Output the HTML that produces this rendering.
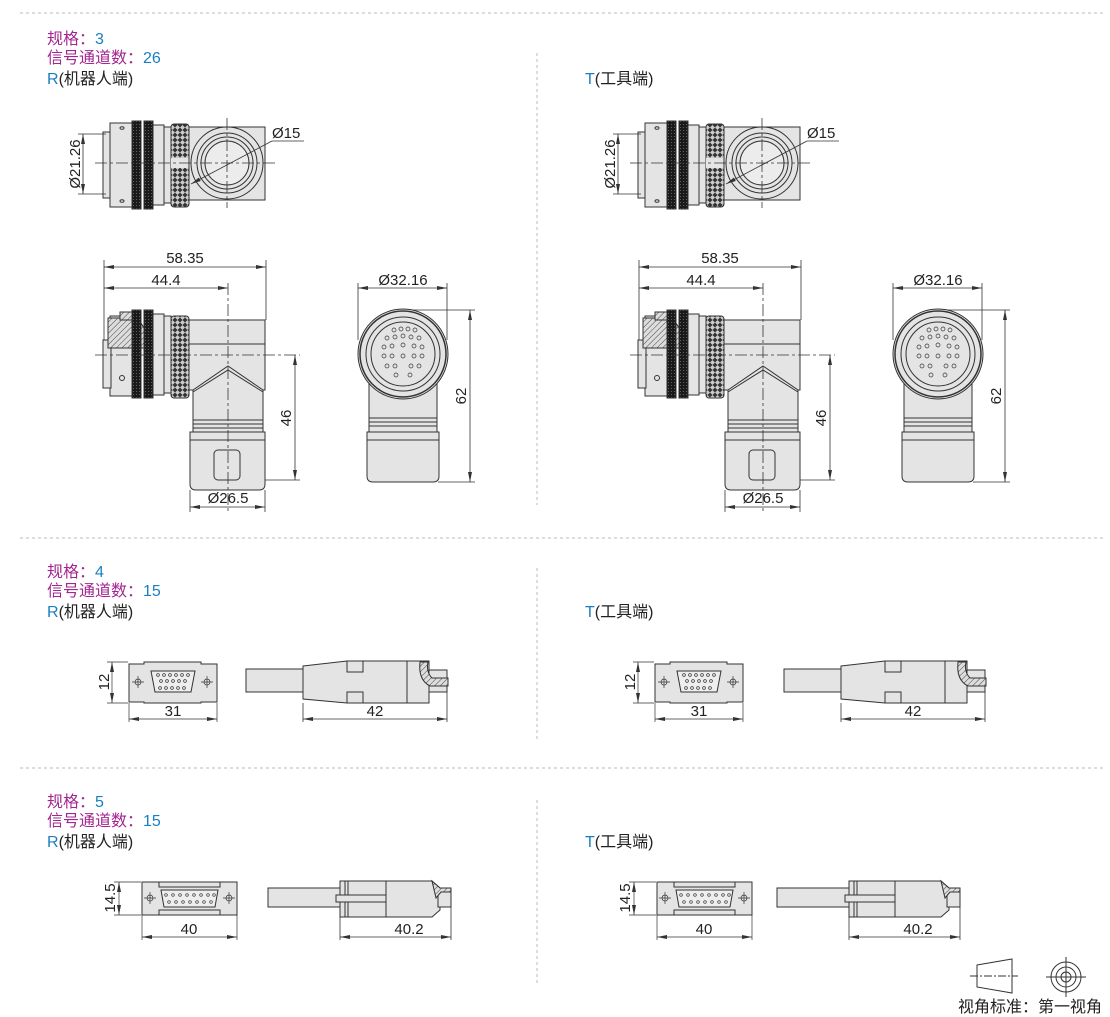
<!DOCTYPE html>
<html><head><meta charset="utf-8"><style>
html,body{margin:0;padding:0;background:#fff}
svg{display:block}
text{font-family:"Liberation Sans","Noto Sans CJK SC",sans-serif}
</style></head><body>
<svg width="1110" height="1017" viewBox="0 0 1110 1017" xmlns="http://www.w3.org/2000/svg">
<defs>
<pattern id="kn" width="5" height="5" patternUnits="userSpaceOnUse">
<rect width="5" height="5" fill="#333"/>
<path d="M0 2.5 L2.5 0 L5 2.5 L2.5 5Z" fill="#ccc"/>
</pattern>
<pattern id="rg" width="3" height="3" patternUnits="userSpaceOnUse">
<rect width="3" height="3" fill="#1a1a1a"/><circle cx="1.5" cy="1.5" r="0.5" fill="#777"/>
</pattern>
<pattern id="ht" width="4" height="4" patternUnits="userSpaceOnUse" patternTransform="rotate(45)">
<rect width="4" height="4" fill="#ddd"/><line x1="0" y1="0" x2="0" y2="4" stroke="#444" stroke-width="1"/>
</pattern>
<marker id="ar" viewBox="0 0 10 4" refX="10" refY="2" markerWidth="10" markerHeight="4" orient="auto-start-reverse" markerUnits="userSpaceOnUse">
<path d="M0 0 L10 2 L0 4Z" fill="#333"/></marker>

<g id="s3" stroke="#333" stroke-width="1" fill="#e4e4e4">
<rect x="103" y="132" width="8" height="66"/>
<rect x="110" y="123" width="23" height="84"/>
<ellipse cx="122" cy="128" rx="2" ry="1.3" fill="none"/><ellipse cx="122" cy="201" rx="2" ry="1.3" fill="none"/>
<rect x="132" y="121" width="9" height="88" fill="url(#rg)"/>
<rect x="144" y="121" width="9" height="88" fill="url(#rg)"/>
<rect x="153" y="125" width="11" height="80"/>
<rect x="164" y="127" width="7" height="76"/>
<rect x="171" y="124" width="18" height="83" rx="3" fill="url(#kn)"/>
<rect x="171" y="158" width="18" height="10" fill="#e4e4e4" stroke="none"/>
<rect x="189" y="127" width="76" height="73"/>
<circle cx="227" cy="163" r="36"/>
<circle cx="227" cy="163" r="30" fill="none"/>
<circle cx="227" cy="163" r="26" fill="none"/>
<circle cx="227" cy="163" r="22" fill="#ececec"/>
<g fill="none" stroke-dasharray="12 3 3 3" stroke-width="0.8">
<line x1="95" y1="163" x2="278" y2="163"/><line x1="227" y1="118" x2="227" y2="208"/></g>
<g fill="none" stroke-width="0.8">
<line x1="78" y1="134" x2="106" y2="134"/><line x1="78" y1="194" x2="106" y2="194"/>
<line x1="83" y1="134" x2="83" y2="194" marker-start="url(#ar)" marker-end="url(#ar)"/>
<line x1="191" y1="184" x2="272" y2="141" marker-start="url(#ar)"/>
<line x1="272" y1="141" x2="304" y2="141"/>
</g>
<g fill="#222" stroke="none" font-size="15">
<text x="272" y="138">Ø15</text>
<text transform="translate(80,164) rotate(-90)" text-anchor="middle">Ø21.26</text>
</g>

<g fill="none" stroke-width="0.8">
<line x1="104" y1="260" x2="104" y2="358"/><line x1="266" y1="260" x2="266" y2="320"/>
<line x1="104" y1="267" x2="266" y2="267" marker-start="url(#ar)" marker-end="url(#ar)"/>
<line x1="104" y1="288" x2="228" y2="288" marker-start="url(#ar)" marker-end="url(#ar)"/>
</g>
<rect x="110" y="316" width="23" height="80"/>
<rect x="103" y="340" width="8" height="48"/>
<path d="M108 318 h30 l6 10 v20 h-36z" fill="url(#ht)"/>
<path d="M120 312 h12 l4 8 h-16z" fill="url(#ht)"/>
<circle cx="122" cy="378" r="2.5" fill="none"/>
<rect x="132" y="310" width="9" height="88" fill="url(#rg)"/>
<rect x="144" y="310" width="9" height="88" fill="url(#rg)"/>
<rect x="153" y="314" width="11" height="81"/>
<rect x="164" y="316" width="7" height="77"/>
<rect x="171" y="316" width="18" height="82" rx="3" fill="url(#kn)"/>
<rect x="189" y="320" width="76" height="70"/>
<line x1="189" y1="344" x2="265" y2="344"/>
<path d="M193 390 L228 366 L263 390 V420 H193Z"/>
<path d="M193 392 L228 370 L263 392" fill="none"/>
<rect x="193" y="420" width="70" height="12"/>
<line x1="193" y1="424" x2="263" y2="424"/><line x1="193" y1="428" x2="263" y2="428"/>
<path d="M190 432 H265 V484 q0 6 -6 6 H196 q-6 0 -6 -6Z"/>
<line x1="190" y1="440" x2="265" y2="440"/>
<rect x="214" y="450" width="26" height="30" rx="4"/>
<g fill="none" stroke-dasharray="12 3 3 3" stroke-width="0.8">
<line x1="95" y1="355" x2="300" y2="355"/><line x1="228" y1="283" x2="228" y2="512"/></g>
<g fill="none" stroke-width="0.8">
<line x1="265" y1="480" x2="300" y2="480"/>
<line x1="295" y1="355" x2="295" y2="480" marker-start="url(#ar)" marker-end="url(#ar)"/>
<line x1="190" y1="490" x2="190" y2="512"/><line x1="265" y1="490" x2="265" y2="512"/>
<line x1="190" y1="507" x2="265" y2="507" marker-start="url(#ar)" marker-end="url(#ar)"/>
</g>
<g fill="#222" stroke="none" font-size="15">
<text x="185" y="263" text-anchor="middle">58.35</text>
<text x="166" y="285" text-anchor="middle">44.4</text>
<text x="228" y="503" text-anchor="middle">Ø26.5</text>
<text transform="translate(291,418) rotate(-90)" text-anchor="middle">46</text>
</g>

<g fill="none" stroke-width="0.8">
<line x1="358" y1="283" x2="358" y2="340"/><line x1="447" y1="283" x2="447" y2="340"/>
<line x1="358" y1="288" x2="447" y2="288" marker-start="url(#ar)" marker-end="url(#ar)"/>
<line x1="405" y1="310" x2="475" y2="310"/><line x1="438" y1="482" x2="475" y2="482"/>
<line x1="470" y1="310" x2="470" y2="482" marker-start="url(#ar)" marker-end="url(#ar)"/>
</g>
<rect x="369" y="380" width="68" height="38"/>
<circle cx="403" cy="354" r="45"/>
<circle cx="403" cy="354" r="43" fill="none" stroke-width="1.5"/>
<circle cx="403" cy="354" r="37" fill="none"/>
<circle cx="403" cy="354" r="32" fill="none"/>
<g fill="none" stroke-width="0.7">
<circle cx="394" cy="330" r="2"/><circle cx="401" cy="329" r="2"/><circle cx="408" cy="329" r="2"/><circle cx="415" cy="330" r="2"/>
<circle cx="387" cy="338" r="2"/><circle cx="395" cy="337" r="2"/><circle cx="403" cy="336" r="2"/><circle cx="411" cy="337" r="2"/><circle cx="419" cy="338" r="2"/>
<circle cx="384" cy="347" r="2"/><circle cx="392" cy="346" r="2"/><circle cx="414" cy="346" r="2"/><circle cx="422" cy="347" r="2"/><circle cx="403" cy="345" r="2"/>
<circle cx="384" cy="356" r="2"/><circle cx="392" cy="356" r="2"/><circle cx="403" cy="356" r="2"/><circle cx="414" cy="356" r="2"/><circle cx="422" cy="356" r="2"/>
<circle cx="387" cy="366" r="2"/><circle cx="395" cy="366" r="2"/><circle cx="411" cy="366" r="2"/><circle cx="419" cy="366" r="2"/>
<circle cx="396" cy="375" r="2"/><circle cx="410" cy="375" r="2"/>
</g>
<rect x="369" y="418" width="68" height="14"/>
<line x1="369" y1="422" x2="437" y2="422"/><line x1="369" y1="426" x2="437" y2="426"/>
<path d="M367 432 H439 V476 q0 6 -6 6 H373 q-6 0 -6 -6Z"/>
<line x1="367" y1="440" x2="439" y2="440"/>
<g fill="#222" stroke="none" font-size="15">
<text x="403" y="285" text-anchor="middle">Ø32.16</text>
<text transform="translate(466,396) rotate(-90)" text-anchor="middle">62</text>
</g>
</g>

<g id="p4" stroke="#333" stroke-width="1" fill="#e4e4e4">
<path d="M129 664 H144 V662 H201 V664 H217 V702 H201 V703 H144 V702 H129Z"/>
<path d="M151 671 H195 L191 692 H155Z" fill="#eee"/>
<g fill="none" stroke-width="0.7">
<circle cx="158" cy="675" r="1.4"/><circle cx="164" cy="675" r="1.4"/><circle cx="170" cy="675" r="1.4"/><circle cx="176" cy="675" r="1.4"/><circle cx="182" cy="675" r="1.4"/><circle cx="188" cy="675" r="1.4"/>
<circle cx="161" cy="681" r="1.4"/><circle cx="167" cy="681" r="1.4"/><circle cx="173" cy="681" r="1.4"/><circle cx="179" cy="681" r="1.4"/><circle cx="185" cy="681" r="1.4"/>
<circle cx="160" cy="688" r="1.4"/><circle cx="166" cy="688" r="1.4"/><circle cx="172" cy="688" r="1.4"/><circle cx="178" cy="688" r="1.4"/><circle cx="184" cy="688" r="1.4"/>
<circle cx="138" cy="682" r="3"/><circle cx="207" cy="682" r="3"/>
<path d="M132 682 h12 M138 676 v12 M201 682 h12 M207 676 v12"/>
<line x1="107" y1="662" x2="128" y2="662"/><line x1="107" y1="703" x2="128" y2="703"/>
<line x1="112" y1="662" x2="112" y2="703" marker-start="url(#ar)" marker-end="url(#ar)"/>
<line x1="129" y1="703" x2="129" y2="722"/><line x1="217" y1="703" x2="217" y2="722"/>
<line x1="129" y1="719" x2="217" y2="719" marker-start="url(#ar)" marker-end="url(#ar)"/>
</g>
<g fill="#222" stroke="none" font-size="15">
<text x="173" y="716" text-anchor="middle">31</text>
<text transform="translate(109,682) rotate(-90)" text-anchor="middle">12</text>
</g>
</g>
<g id="c4" stroke="#333" stroke-width="1" fill="#e4e4e4">
<rect x="246" y="669" width="57" height="23"/>
<path d="M303 666 L347 661 H429 V703 H347 L303 699Z"/>
<path d="M347 661 V672 H363 V661 M347 703 V692 H363 V703 M407 661 V703" fill="none"/>
<rect x="429" y="670" width="18" height="22"/>
<path d="M420 662 Q418 680 430 686 H448 V678 H432 Q426 672 428 662Z" fill="url(#ht)"/>
<g fill="none" stroke-width="0.8">
<line x1="303" y1="703" x2="303" y2="722"/><line x1="447" y1="692" x2="447" y2="722"/>
<line x1="303" y1="719" x2="447" y2="719" marker-start="url(#ar)" marker-end="url(#ar)"/>
</g>
<text x="375" y="716" text-anchor="middle" fill="#222" stroke="none" font-size="15">42</text>
</g>

<g id="p5" stroke="#333" stroke-width="1" fill="#e4e4e4">
<rect x="142" y="882" width="95" height="33"/>
<rect x="159" y="882" width="61" height="5" fill="none"/><rect x="159" y="910" width="61" height="5" fill="none"/>
<path d="M161 890 H218 L215 907 H164Z" fill="#eee"/>
<g fill="none" stroke-width="0.7">
<circle cx="166" cy="895" r="1.3"/><circle cx="173" cy="895" r="1.3"/><circle cx="180" cy="895" r="1.3"/><circle cx="187" cy="895" r="1.3"/><circle cx="194" cy="895" r="1.3"/><circle cx="201" cy="895" r="1.3"/><circle cx="208" cy="895" r="1.3"/><circle cx="214" cy="895" r="1.3"/>
<circle cx="169" cy="902" r="1.3"/><circle cx="176" cy="902" r="1.3"/><circle cx="183" cy="902" r="1.3"/><circle cx="190" cy="902" r="1.3"/><circle cx="197" cy="902" r="1.3"/><circle cx="204" cy="902" r="1.3"/><circle cx="211" cy="902" r="1.3"/>
<circle cx="150" cy="898" r="3"/><circle cx="229" cy="898" r="3"/>
<path d="M144 898 h12 M150 892 v12 M223 898 h12 M229 892 v12"/>
<line x1="114" y1="882" x2="141" y2="882"/><line x1="114" y1="915" x2="141" y2="915"/>
<line x1="119" y1="882" x2="119" y2="915" marker-start="url(#ar)" marker-end="url(#ar)"/>
<line x1="142" y1="915" x2="142" y2="940"/><line x1="237" y1="915" x2="237" y2="940"/>
<line x1="142" y1="937" x2="237" y2="937" marker-start="url(#ar)" marker-end="url(#ar)"/>
</g>
<g fill="#222" stroke="none" font-size="15">
<text x="189" y="934" text-anchor="middle">40</text>
<text transform="translate(115,898) rotate(-90)" text-anchor="middle">14.5</text>
</g>
</g>
<g id="c5" stroke="#333" stroke-width="1" fill="#e4e4e4">
<rect x="268" y="888" width="72" height="19"/>
<path d="M340 881 H432 L440 888 V910 L432 917 H340Z"/>
<path d="M345 881 V917 M348 881 V917 M386 881 V917" fill="none"/>
<rect x="336" y="895" width="50" height="7"/>
<rect x="438" y="888" width="13" height="19"/>
<path d="M432 881 L440 888 H451 V892 H441 L436 898Z" fill="url(#ht)"/>
<g fill="none" stroke-width="0.8">
<line x1="340" y1="917" x2="340" y2="940"/><line x1="451" y1="907" x2="451" y2="940"/>
<line x1="340" y1="937" x2="451" y2="937" marker-start="url(#ar)" marker-end="url(#ar)"/>
</g>
<text x="409" y="934" text-anchor="middle" fill="#222" stroke="none" font-size="15">40.2</text>
</g>
</defs>

<g stroke="#bbb" stroke-width="1" stroke-dasharray="3 3" fill="none">
<line x1="20" y1="13" x2="1105" y2="13"/>
<line x1="20" y1="538" x2="1105" y2="538"/>
<line x1="20" y1="768" x2="1105" y2="768"/>
<line x1="537" y1="53" x2="537" y2="505"/>
<line x1="537" y1="568" x2="537" y2="740"/>
<line x1="537" y1="800" x2="537" y2="985"/>
</g>

<g font-size="16" fill="#222">
<text x="47" y="44"><tspan fill="#a3258f">规格：</tspan><tspan fill="#1a7fc1">3</tspan></text>
<text x="47" y="63"><tspan fill="#a3258f">信号通道数：</tspan><tspan fill="#1a7fc1">26</tspan></text>
<text x="47" y="84"><tspan fill="#1a7fc1">R</tspan>(机器人端)</text>
<text x="585" y="84"><tspan fill="#1a7fc1">T</tspan>(工具端)</text>
<text x="47" y="577"><tspan fill="#a3258f">规格：</tspan><tspan fill="#1a7fc1">4</tspan></text>
<text x="47" y="596"><tspan fill="#a3258f">信号通道数：</tspan><tspan fill="#1a7fc1">15</tspan></text>
<text x="47" y="617"><tspan fill="#1a7fc1">R</tspan>(机器人端)</text>
<text x="585" y="617"><tspan fill="#1a7fc1">T</tspan>(工具端)</text>
<text x="47" y="807"><tspan fill="#a3258f">规格：</tspan><tspan fill="#1a7fc1">5</tspan></text>
<text x="47" y="826"><tspan fill="#a3258f">信号通道数：</tspan><tspan fill="#1a7fc1">15</tspan></text>
<text x="47" y="847"><tspan fill="#1a7fc1">R</tspan>(机器人端)</text>
<text x="585" y="847"><tspan fill="#1a7fc1">T</tspan>(工具端)</text>
</g>

<use href="#s3"/><use href="#s3" transform="translate(535,0)"/>
<use href="#p4"/><use href="#p4" transform="translate(526,0)"/>
<use href="#c4"/><use href="#c4" transform="translate(538,0)"/>
<use href="#p5"/><use href="#p5" transform="translate(515,0)"/>
<use href="#c5"/><use href="#c5" transform="translate(509,0)"/>

<g stroke="#333" stroke-width="1" fill="none">
<path d="M977 965 L1012 959 V993 L977 987Z"/>
<line x1="970" y1="976" x2="1018" y2="976" stroke-dasharray="8 2 2 2"/>
<circle cx="1066" cy="977" r="15"/><circle cx="1066" cy="977" r="10"/><circle cx="1066" cy="977" r="5"/>
<line x1="1046" y1="977" x2="1086" y2="977"/><line x1="1066" y1="957" x2="1066" y2="997"/>
</g>
<text x="958" y="1012" font-size="16" fill="#222">视角标准：第一视角</text>
</svg>
</body></html>
